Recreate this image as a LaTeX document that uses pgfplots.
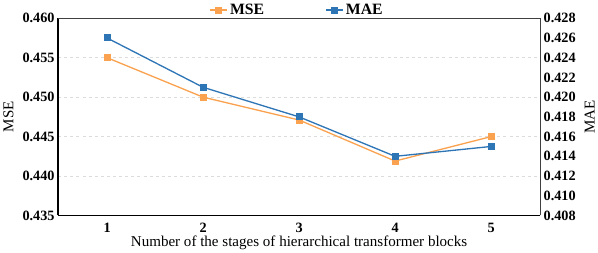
\documentclass[border=0pt]{standalone}
\usepackage{pgfplots}
\pgfplotsset{compat=1.18}
\usepackage{fontspec}
\setmainfont{Liberation Serif}
\definecolor{mseorange}{RGB}{250,162,80}
\definecolor{maeblue}{RGB}{46,117,182}
\definecolor{gridgray}{RGB}{220,220,220}
\begin{document}
\begin{tikzpicture}
\pgfplotsset{
  base/.style={
    width=474pt, height=194pt, scale only axis,
    xmin=0.49, xmax=5.51,
    xtick={1,2,3,4,5},
    xticklabels={1,2,3,4,5},
    tick style={draw=none},
    ticklabel style={font=\fontsize{14}{15}\selectfont\bfseries},
    /pgf/number format/assume math mode=true,
    yticklabel style={/pgf/number format/fixed, /pgf/number format/fixed zerofill, /pgf/number format/precision=3},
    label style={font=\fontsize{14.8}{16}\selectfont},
  }
}
\begin{axis}[base,
  axis x line*=bottom, axis y line*=left,
  axis line style={-, black, line width=1.3pt},
  ymin=0.435, ymax=0.460,
  ytick={0.435,0.440,0.445,0.450,0.455,0.460},
  ymajorgrids, grid style={gridgray, dashed, line width=0.8pt},
  xlabel={Number of the stages of hierarchical transformer blocks},
  xlabel style={yshift=4pt},
  ylabel={MSE},
  ylabel style={yshift=2pt},
  xticklabel style={yshift=-4pt},
]
\addplot[mseorange, line width=1.3pt, mark=square*, mark size=2.8pt, mark options={solid}]
  coordinates {(1,0.4550) (2,0.4500) (3,0.4471) (4,0.4419) (5,0.4450)};
\end{axis}
\begin{axis}[base,
  axis x line*=top, axis y line*=right,
  axis line style={-, black!75, line width=0.9pt},
  xticklabels={},
  ymin=0.408, ymax=0.428,
  ytick={0.408,0.410,0.412,0.414,0.416,0.418,0.420,0.422,0.424,0.426,0.428},
  ylabel={MAE},
  ylabel style={yshift=-2pt},
  legend columns=2,
  legend style={draw=none, fill=none, at={(0.5,1.0)}, anchor=south, xshift=-2pt, yshift=-2pt,
    font=\fontsize{15.5}{16}\selectfont\bfseries,
    /tikz/every even column/.append style={column sep=58pt}},
]
\addlegendimage{mseorange, line width=1.3pt, mark=square*, mark size=2.8pt}
\addlegendentry{MSE}
\addplot[maeblue, line width=1.3pt, mark=square*, mark size=2.8pt]
  coordinates {(1,0.4260) (2,0.4210) (3,0.4180) (4,0.4140) (5,0.4150)};
\addlegendentry{MAE}
\end{axis}
\end{tikzpicture}
\end{document}
